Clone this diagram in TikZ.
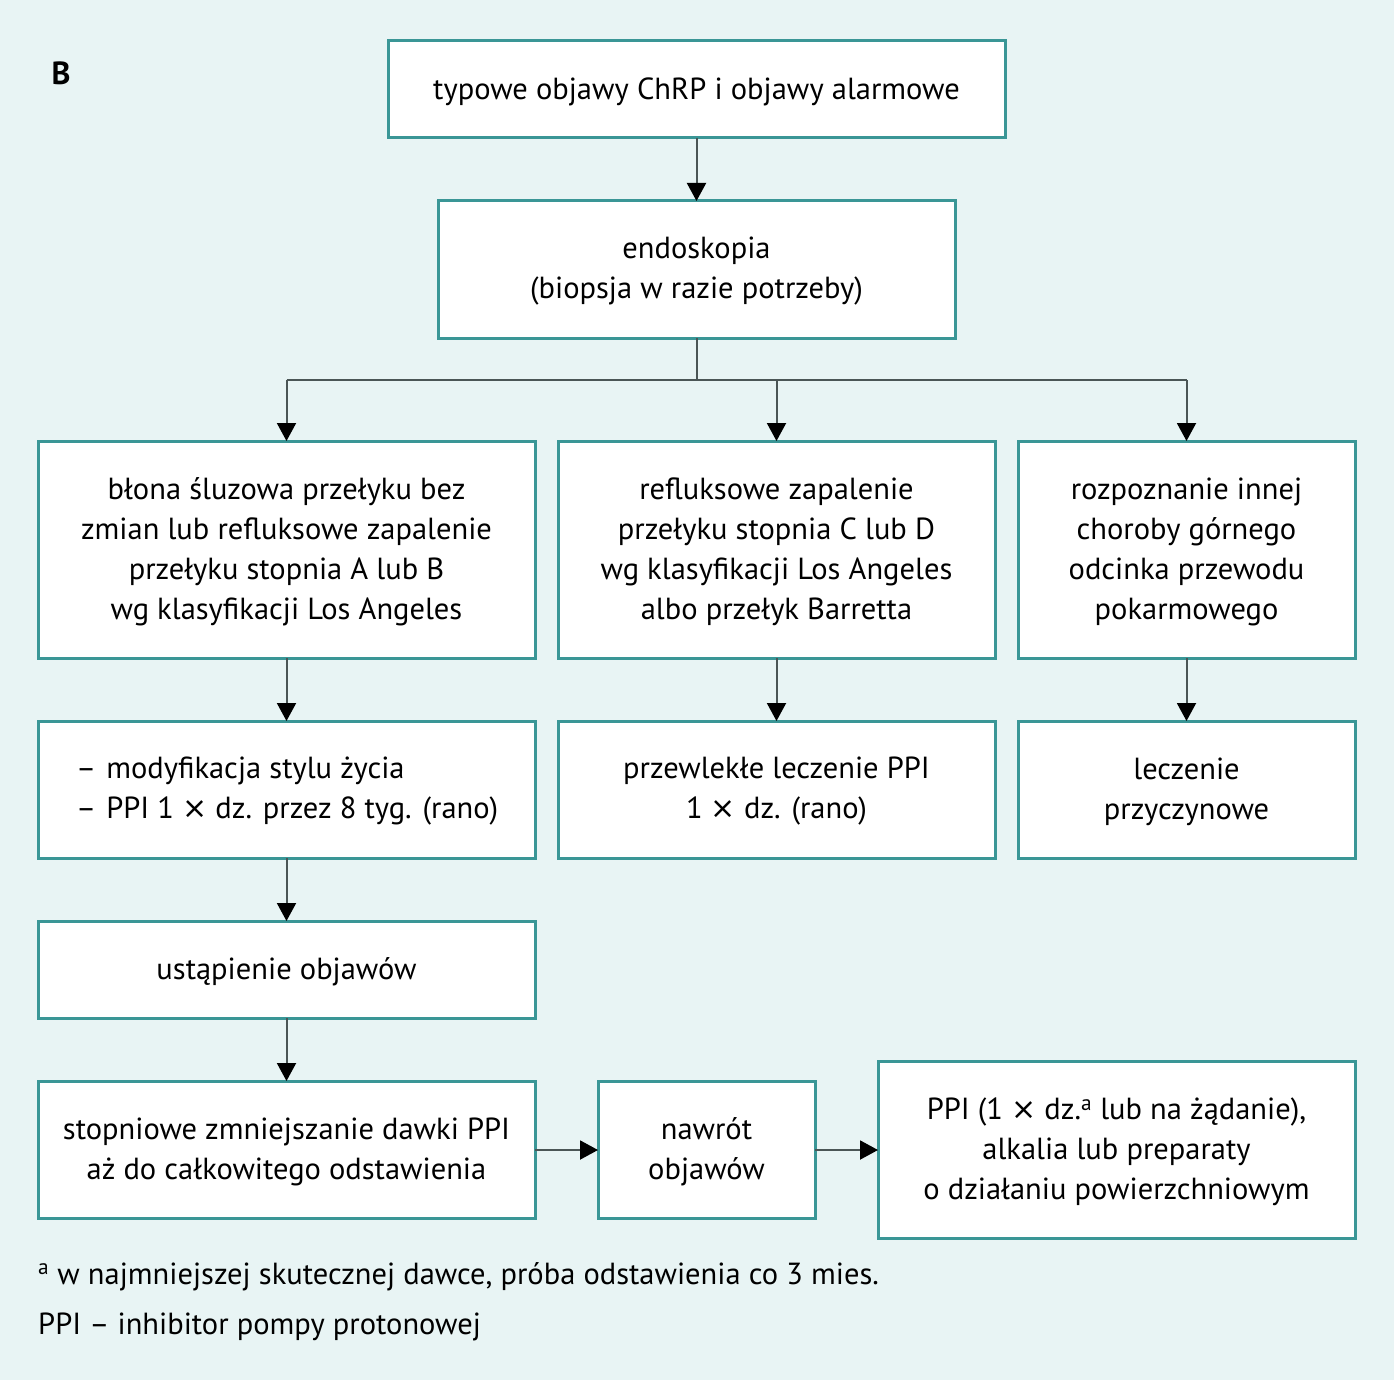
\documentclass[tikz,border=0pt]{standalone}
\usepackage{fontspec}
\setmainfont{PT Sans}
\newfontfamily\djvfont{DejaVu Sans}
\usetikzlibrary{arrows.meta}
\definecolor{bg}{HTML}{E8F4F4}
\definecolor{teal}{HTML}{3A9696}
\definecolor{conn}{HTML}{4A5555}
\newcommand{\tms}{{\djvfont\fontsize{30}{40}\selectfont ×}}
\tikzset{
  box/.style={draw=teal, line width=3pt, fill=white},
  txt/.style={align=center, font=\fontsize{30.5}{40}\selectfont, inner sep=0pt},
  arr/.style={draw=conn, line width=2pt, -{Triangle[length=18pt,width=19pt,color=black]}},
  ln/.style={draw=conn, line width=2pt}
}
\begin{document}
\begin{tikzpicture}[x=1pt,y=-1pt]
\fill[bg] (0,0) rectangle (1394,1380);
\useasboundingbox (0,0) rectangle (1394,1380);
\node[font=\fontsize{32}{36}\selectfont\bfseries, inner sep=0pt] (lab) at (61,73) {B};
% boxes
\draw[box] (388,41) rectangle (1005,138);
\node[txt] (tt) at (696.5,91.5) {typowe objawy ChRP i objawy alarmowe};
\draw[box] (438,201) rectangle (955,338);
\node[txt] (en) at (696.5,271.5) {endoskopia\\(biopsja w razie potrzeby)};
\draw[box] (38,441) rectangle (535,658);
\node[txt] (a1) at (286.5,551.5) {błona śluzowa przełyku bez\\zmian lub refluksowe zapalenie\\przełyku stopnia A lub B\\wg klasyfikacji Los Angeles};
\draw[box] (558,441) rectangle (995,658);
\node[txt] (b1) at (776.5,551.5) {refluksowe zapalenie\\przełyku stopnia C lub D\\wg klasyfikacji Los Angeles\\albo przełyk Barretta};
\draw[box] (1018,441) rectangle (1355,658);
\node[txt] (c1) at (1186.5,551.5) {rozpoznanie innej\\choroby górnego\\odcinka przewodu\\pokarmowego};
\draw[box] (38,721) rectangle (535,858);
\node[txt, align=left, anchor=west] (a2) at (76,791.5) {–\hspace{10pt}modyfikacja stylu życia\\–\hspace{10pt}PPI 1 \tms{} dz. przez 8 tyg. (rano)};
\draw[box] (558,721) rectangle (995,858);
\node[txt] (b2) at (776.5,791.5) {przewlekłe leczenie PPI\\1 \tms{} dz. (rano)};
\draw[box] (1018,721) rectangle (1355,858);
\node[txt] (c2) at (1186.5,791.5) {leczenie\\przyczynowe};
\draw[box] (38,921) rectangle (535,1018);
\node[txt] (a3) at (286.5,971.5) {ustąpienie objawów};
\draw[box] (38,1081) rectangle (535,1218);
\node[txt] (a4) at (286.5,1151.5) {stopniowe zmniejszanie dawki PPI\\aż do całkowitego odstawienia};
\draw[box] (598,1081) rectangle (815,1218);
\node[txt] (nw) at (706.5,1151.5) {nawrót\\objawów};
\draw[box] (878,1061) rectangle (1355,1238);
\node[txt] (pp) at (1116.5,1151.5) {PPI (1 \tms{} dz.\textsuperscript{a} lub na żądanie),\\alkalia lub preparaty\\o działaniu powierzchniowym};
% connector anchors
\coordinate (tB) at (696.5,138); \coordinate (enT) at (696.5,201);
\coordinate (enB) at (696.5,338); \coordinate (br) at (696.5,380);
\coordinate (brA) at (286.5,380); \coordinate (brC) at (1186.5,380); \coordinate (brB) at (776.5,380);
\coordinate (a1T) at (286.5,441); \coordinate (b1T) at (776.5,441); \coordinate (c1T) at (1186.5,441);
\coordinate (a1B) at (286.5,658); \coordinate (b1B) at (776.5,658); \coordinate (c1B) at (1186.5,658);
\coordinate (a2T) at (286.5,721); \coordinate (b2T) at (776.5,721); \coordinate (c2T) at (1186.5,721);
\coordinate (a2B) at (286.5,858); \coordinate (a3T) at (286.5,921);
\coordinate (a3B) at (286.5,1018); \coordinate (a4T) at (286.5,1081);
\coordinate (a4R) at (535,1150); \coordinate (nwL) at (598,1150);
\coordinate (nwR) at (815,1150); \coordinate (ppL) at (878,1150);
\draw[arr] (tB) -- (enT);
\draw[ln] (enB) -- (br);
\draw[ln] (brA) -- (brC);
\draw[arr] (brA) -- (a1T);
\draw[arr] (brB) -- (b1T);
\draw[arr] (brC) -- (c1T);
\draw[arr] (a1B) -- (a2T);
\draw[arr] (b1B) -- (b2T);
\draw[arr] (c1B) -- (c2T);
\draw[arr] (a2B) -- (a3T);
\draw[arr] (a3B) -- (a4T);
\draw[arr] (a4R) -- (nwL);
\draw[arr] (nwR) -- (ppL);
% footnotes
\node[txt, anchor=base west] (f1) at (38,1284) {\textsuperscript{a} w najmniejszej skutecznej dawce, próba odstawienia co 3 mies.};
\node[txt, anchor=base west] (f2) at (38,1334) {PPI – inhibitor pompy protonowej};
\end{tikzpicture}
\end{document}
